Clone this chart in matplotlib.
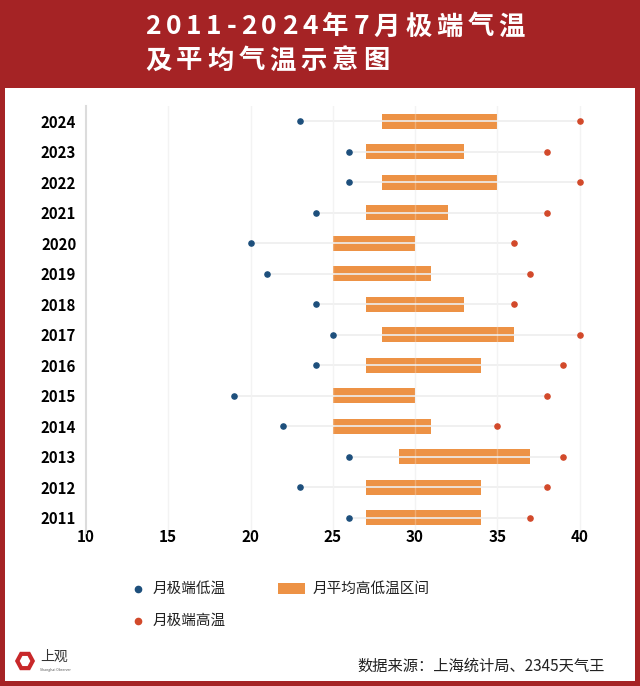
import matplotlib
matplotlib.use("Agg")
import matplotlib.pyplot as plt
from matplotlib.patches import Rectangle, RegularPolygon
from matplotlib.lines import Line2D

plt.rcParams['font.family'] = ['Noto Sans CJK SC', 'DejaVu Sans']

# --- 数据 ---
years = [2011, 2012, 2013, 2014, 2015, 2016, 2017, 2018, 2019, 2020, 2021, 2022, 2023, 2024]
extreme_low = [26, 23, 26, 22, 19, 24, 25, 24, 21, 20, 24, 26, 26, 23]
extreme_high = [37, 38, 39, 35, 38, 39, 40, 36, 37, 36, 38, 40, 38, 40]
avg_low = [27, 27, 29, 25, 25, 27, 28, 27, 25, 25, 27, 28, 27, 28]
avg_high = [34, 34, 37, 31, 30, 34, 36, 33, 31, 30, 32, 35, 33, 35]
x_ticks = [10, 15, 20, 25, 30, 35, 40]

RED = "#a52325"
BLUE = "#1d4f7c"
ORANGE_DOT = "#d2492a"
BAR = "#ed9245"

fig = plt.figure(figsize=(6.4, 6.86), dpi=100)
fig.patch.set_facecolor(RED)

# 白色面板
fig.patches.append(Rectangle((5 / 640, 1 - 681 / 686), 630 / 640, (681 - 88) / 686,
                             transform=fig.transFigure, facecolor="white", edgecolor="none", zorder=-10))


def spaced_text(x_px, y_px, s, gap_px, **kw):
    """逐字绘制标题，带字间距"""
    renderer = fig.canvas.get_renderer()
    x = x_px
    for ch in s:
        t = fig.text(x / 640, 1 - y_px / 686, ch, ha="left", va="center", **kw)
        w = t.get_window_extent(renderer=renderer).width
        x += w + gap_px


spaced_text(145, 27, "2011-2024年7月极端气温", 4.8, color="white", fontsize=19, fontweight="bold")
spaced_text(145, 61, "及平均气温示意图", 4.8, color="white", fontsize=19, fontweight="bold")

ax = fig.add_axes([86 / 640, 1 - 533 / 686, (596 - 86) / 640, (533 - 106) / 686])
ax.set_facecolor("none")

for xv in x_ticks[1:]:
    ax.axvline(xv, color="#f0f0f0", lw=1, zorder=1)
    ax.axvline(xv, color="white", lw=1, alpha=0.25, zorder=4)

widths = [h - l for l, h in zip(avg_low, avg_high)]
ax.barh(years, widths, left=avg_low, height=0.5, color=BAR, zorder=2)
ax.hlines(years, extreme_low, extreme_high, color="#eeeeee", lw=1.2, zorder=3)
ax.scatter(extreme_low, years, s=14, color=BLUE, zorder=5)
ax.scatter(extreme_high, years, s=14, color=ORANGE_DOT, zorder=5)

ax.set_xlim(10, 41)
ax.set_ylim(2010.5, 2024.5)
ax.set_xticks(x_ticks)
ax.set_yticks(years)
ax.tick_params(length=0)
ax.tick_params(axis="y", pad=7, labelsize=10.8)
ax.tick_params(axis="x", pad=-3, labelsize=11)
for lab in ax.get_xticklabels() + ax.get_yticklabels():
    lab.set_fontweight("bold")
for s in ["top", "right", "bottom"]:
    ax.spines[s].set_visible(False)
ax.spines["left"].set_color("#dcdcdc")
ax.spines["left"].set_linewidth(1.5)

# 图例
fig.add_artist(Line2D([138 / 640], [1 - 589 / 686], marker="o", markersize=4.5,
                      color=BLUE, transform=fig.transFigure))
fig.add_artist(Line2D([138 / 640], [1 - 621 / 686], marker="o", markersize=4.5,
                      color=ORANGE_DOT, transform=fig.transFigure))
fig.patches.append(Rectangle((278 / 640, 1 - 594 / 686), 27 / 640, 11 / 686,
                             transform=fig.transFigure, facecolor=BAR, edgecolor="none"))
fig.text(153 / 640, 1 - 589 / 686, "月极端低温", fontsize=10.5, ha="left", va="center", color="#222222")
fig.text(153 / 640, 1 - 621 / 686, "月极端高温", fontsize=10.5, ha="left", va="center", color="#222222")
fig.text(313 / 640, 1 - 589 / 686, "月平均高低温区间", fontsize=10.5, ha="left", va="center", color="#222222")

# 来源与标志
fig.text(605 / 640, 1 - 666 / 686, "数据来源：上海统计局、2345天气王", fontsize=11,
         ha="right", va="center", color="#222222")
fig.patches.append(RegularPolygon((25 / 640, 1 - 661 / 686), numVertices=6, radius=0.012,
                                  orientation=0.5236, transform=fig.transFigure,
                                  facecolor="none", edgecolor="#c8282a", lw=3))
fig.text(40 / 640, 1 - 657 / 686, "上观", fontsize=10, ha="left", va="center", color="#333333")
fig.text(40 / 640, 1 - 670 / 686, "Shanghai Observer", fontsize=2.5, ha="left", va="center", color="#555555")

fig.savefig("out.png", dpi=100, facecolor=fig.get_facecolor())
